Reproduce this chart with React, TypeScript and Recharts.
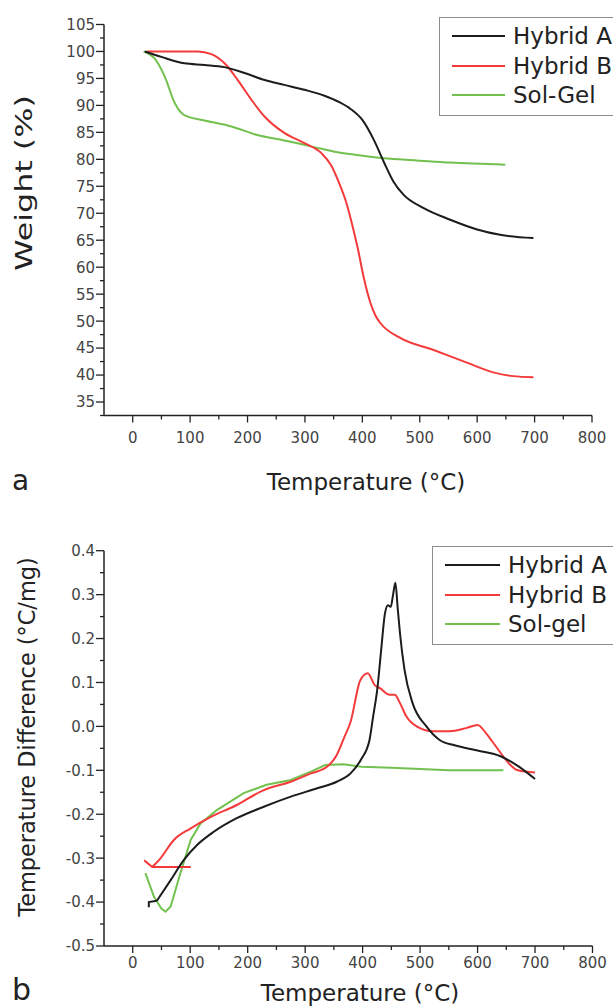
import { LineChart, Line, XAxis, YAxis } from 'recharts'

const FONT = '"DejaVu Sans", Verdana, sans-serif'
const BLACK = '#1c1c1c'
const RED = '#f43a3a'
const GREEN = '#72c14e'
const AXIS = '#222'
const TICK_TEXT = '#444'

// ---- panel a: TGA weight loss ----
const hybridATemp = [21, 50, 90, 125, 160, 195, 230, 264, 299, 334, 360, 380, 400, 420, 437, 454, 472, 506, 553, 600, 640, 698]
const hybridAWeight = [100, 99.0, 97.8, 97.5, 97.1, 96.0, 94.7, 93.8, 92.9, 91.8, 90.6, 89.3, 87.3, 83.6, 79.6, 75.9, 73.4, 71.0, 68.8, 67.0, 66.0, 65.4]

const hybridBTemp = [25, 80, 113, 137, 160, 183, 207, 230, 264, 299, 329, 345, 360, 372, 382, 392, 403, 414, 423, 431, 466, 523, 582, 628, 663, 698]
const hybridBWeight = [100, 100, 100, 99.5, 97.8, 94.7, 91.0, 87.9, 84.9, 83.0, 81.1, 79.0, 75.5, 72.0, 68.0, 63.5, 57.8, 53.4, 51.0, 49.7, 46.9, 44.7, 42.3, 40.5, 39.8, 39.6]

const solGelTemp = [19, 38, 56, 73, 90, 125, 172, 217, 264, 311, 357, 391, 437, 495, 553, 649]
const solGelWeight = [100, 98.7, 95.3, 90.5, 88.2, 87.2, 86.1, 84.5, 83.5, 82.4, 81.3, 80.8, 80.2, 79.8, 79.4, 79.0]

// ---- panel b: DTA ----
const dtaAStartTemp = [28, 28, 42]
const dtaAStartValue = [-0.412, -0.4, -0.397]
const dtaATemp = [42, 66, 89, 112, 141, 181, 228, 275, 321, 355, 379, 397, 412, 418, 426, 432, 439, 444, 449, 453, 457, 461, 465, 473, 487, 511, 534, 560, 600, 640, 670, 700]
const dtaAValue = [-0.397, -0.35, -0.304, -0.27, -0.24, -0.209, -0.183, -0.16, -0.141, -0.126, -0.107, -0.076, -0.031, 0.02, 0.09, 0.17, 0.258, 0.276, 0.272, 0.3, 0.327, 0.27, 0.212, 0.128, 0.053, 0.0, -0.031, -0.043, -0.055, -0.068, -0.09, -0.12]

const dtaBStartTemp = [20, 34, 101]
const dtaBStartValue = [-0.305, -0.32, -0.32]
const dtaBTemp = [34, 46, 72, 101, 136, 181, 228, 275, 310, 338, 355, 368, 379, 396, 409, 421, 430, 447, 456, 465, 476, 494, 522, 551, 580, 600, 615, 626, 640, 655, 670, 700]
const dtaBValue = [-0.32, -0.304, -0.258, -0.232, -0.206, -0.179, -0.145, -0.126, -0.107, -0.092, -0.065, -0.025, 0.01, 0.105, 0.121, 0.094, 0.087, 0.072, 0.072, 0.053, 0.023, 0.0, -0.011, -0.011, -0.004, 0.003, -0.016, -0.035, -0.06, -0.085, -0.1, -0.105]

const dtaSolTemp = [22, 37, 50, 57, 66, 83, 101, 118, 147, 193, 233, 275, 310, 335, 367, 398, 450, 500, 550, 600, 645]
const dtaSolValue = [-0.334, -0.388, -0.415, -0.422, -0.41, -0.334, -0.258, -0.221, -0.19, -0.152, -0.133, -0.122, -0.103, -0.088, -0.086, -0.092, -0.094, -0.097, -0.1, -0.1, -0.1]

// ---- ticks ----
const tempMajor = [0, 100, 200, 300, 400, 500, 600, 700, 800]
const tempMinor = [50, 150, 250, 350, 450, 550, 650, 750]
const weightMajor = [35, 40, 45, 50, 55, 60, 65, 70, 75, 80, 85, 90, 95, 100, 105]
const weightMinor = [32.5, 37.5, 42.5, 47.5, 52.5, 57.5, 62.5, 67.5, 72.5, 77.5, 82.5, 87.5, 92.5, 97.5, 102.5]
const dtaMajor = [-0.5, -0.4, -0.3, -0.2, -0.1, 0.0, 0.1, 0.2, 0.3, 0.4]
const dtaMinor = [-0.45, -0.35, -0.25, -0.15, -0.05, 0.05, 0.15, 0.25, 0.35]

const toPoints = (ts: number[], vs: number[]) => ts.map((t, i) => ({ t, v: vs[i] }))
const isIn = (list: number[], v: number) => list.some((m) => Math.abs(m - v) < 1e-9)
const sortAll = (a: number[], b: number[]) => [...a, ...b].sort((p, q) => p - q)

function yTick(majors: number[], fmt: (v: number) => string) {
  return (props: any) => {
    const { x, y, payload } = props
    const major = isIn(majors, payload.value)
    return (
      <g>
        <line x1={x} x2={x - (major ? 8 : 4)} y1={y} y2={y} stroke={AXIS} strokeWidth={1.3} />
        {major && (
          <text x={x - 9} y={y} dy="0.36em" textAnchor="end" fontFamily={FONT} fontSize={15} fill={TICK_TEXT}>
            {fmt(payload.value)}
          </text>
        )}
      </g>
    )
  }
}

function xTick(labelOffset: number) {
  return (props: any) => {
    const { x, y, payload } = props
    const major = isIn(tempMajor, payload.value)
    return (
      <g>
        <line x1={x} x2={x} y1={y} y2={y + (major ? 7 : 4)} stroke={AXIS} strokeWidth={1.3} />
        {major && (
          <text x={x} y={y + labelOffset} textAnchor="middle" fontFamily={FONT} fontSize={15} fill={TICK_TEXT}>
            {payload.value}
          </text>
        )}
      </g>
    )
  }
}

function LegendBox({ left, top, lineLeft, lineWidth, textLeft, labels }: {
  left: number
  top: number
  lineLeft: number
  lineWidth: number
  textLeft: number
  labels: string[]
}) {
  const colors = [BLACK, RED, GREEN]
  return (
    <div style={{
      position: 'absolute',
      left,
      top,
      width: 300,
      height: 99,
      border: '1px solid #8c8c8c',
      boxSizing: 'border-box',
      fontFamily: FONT,
    }}>
      {labels.map((label, i) => (
        <div key={label} style={{
          position: 'absolute',
          left: 0,
          top: 18 + i * 29.5 - 15,
          height: 30,
          display: 'flex',
          alignItems: 'center',
          whiteSpace: 'nowrap',
        }}>
          <span style={{
            position: 'absolute',
            left: lineLeft - left,
            width: lineWidth,
            height: 2,
            background: colors[i],
          }} />
          <span style={{
            position: 'absolute',
            left: textLeft - left,
            fontSize: 23,
            color: '#222',
            lineHeight: '30px',
          }}>{label}</span>
        </div>
      ))}
    </div>
  )
}

export default function App() {
  const lineProps = {
    type: 'monotone' as const,
    dataKey: 'v',
    dot: false,
    strokeWidth: 2,
    isAnimationActive: false,
  }

  return (
    <div style={{ position: 'absolute', left: 0, top: 0, width: 613, height: 1006, overflow: 'hidden', background: '#fff' }}>
      <div style={{ position: 'absolute', left: 0, top: 0 }}>
        <LineChart width={613} height={460} margin={{ top: 24.5, right: 21, left: 54, bottom: 14.5 }}>
          <XAxis
            dataKey="t"
            type="number"
            domain={[-50, 800]}
            ticks={sortAll(tempMajor, tempMinor)}
            interval={0}
            tickSize={0}
            tickMargin={0}
            tickLine={false}
            tick={xTick(27.5)}
            height={30}
            axisLine={{ stroke: AXIS, strokeWidth: 1.5 }}
            allowDataOverflow
          />
          <YAxis
            type="number"
            domain={[32.5, 105]}
            ticks={sortAll(weightMajor, weightMinor)}
            interval={0}
            tickSize={0}
            tickMargin={0}
            tickLine={false}
            tick={yTick(weightMajor, (v) => `${v}`)}
            width={50}
            axisLine={{ stroke: AXIS, strokeWidth: 1.5 }}
            allowDataOverflow
          />
          <Line {...lineProps} data={toPoints(solGelTemp, solGelWeight)} stroke={GREEN} />
          <Line {...lineProps} data={toPoints(hybridBTemp, hybridBWeight)} stroke={RED} />
          <Line {...lineProps} data={toPoints(hybridATemp, hybridAWeight)} stroke={BLACK} />
        </LineChart>
      </div>

      <div style={{ position: 'absolute', left: 0, top: 500 }}>
        <LineChart width={613} height={506} margin={{ top: 50.7, right: 20.5, left: 54, bottom: 30 }}>
          <XAxis
            dataKey="t"
            type="number"
            domain={[-50, 800]}
            ticks={sortAll(tempMajor, tempMinor)}
            interval={0}
            tickSize={0}
            tickMargin={0}
            tickLine={false}
            tick={xTick(22)}
            height={30}
            axisLine={{ stroke: AXIS, strokeWidth: 1.5 }}
            allowDataOverflow
          />
          <YAxis
            type="number"
            domain={[-0.5, 0.4]}
            ticks={sortAll(dtaMajor, dtaMinor)}
            interval={0}
            tickSize={0}
            tickMargin={0}
            tickLine={false}
            tick={yTick(dtaMajor, (v) => v.toFixed(1))}
            width={50}
            axisLine={{ stroke: AXIS, strokeWidth: 1.5 }}
            allowDataOverflow
          />
          <Line {...lineProps} type="linear" data={toPoints(dtaSolTemp, dtaSolValue)} stroke={GREEN} />
          <Line {...lineProps} type="linear" data={toPoints(dtaBStartTemp, dtaBStartValue)} stroke={RED} />
          <Line {...lineProps} data={toPoints(dtaBTemp, dtaBValue)} stroke={RED} />
          <Line {...lineProps} type="linear" data={toPoints(dtaAStartTemp, dtaAStartValue)} stroke={BLACK} />
          <Line {...lineProps} data={toPoints(dtaATemp, dtaAValue)} stroke={BLACK} />
        </LineChart>
      </div>

      <svg width={613} height={1006} style={{ position: 'absolute', left: 0, top: 0, pointerEvents: 'none' }}>
        <g fontFamily={FONT} fill="#222">
          <text transform="translate(24,183) rotate(-90) scale(1.38,1)" textAnchor="middle" dominantBaseline="central" fontSize={23}>
            Weight (%)
          </text>
          <text x={366} y={490} textAnchor="middle" fontSize={23}>Temperature (°C)</text>
          <text x={12} y={490} fontSize={28}>a</text>
          <text transform="translate(27,737) rotate(-90)" textAnchor="middle" dominantBaseline="central" fontSize={22.4}>
            Temperature Difference (°C/mg)
          </text>
          <text x={360} y={1001} textAnchor="middle" fontSize={23}>Temperature (°C)</text>
          <text x={12} y={1000} fontSize={30}>b</text>
        </g>
      </svg>

      <LegendBox left={439} top={17} lineLeft={451} lineWidth={53} textLeft={512} labels={['Hybrid A', 'Hybrid B', 'Sol-Gel']} />
      <LegendBox left={432} top={546} lineLeft={444} lineWidth={55} textLeft={507} labels={['Hybrid A', 'Hybrid B', 'Sol-gel']} />
    </div>
  )
}
